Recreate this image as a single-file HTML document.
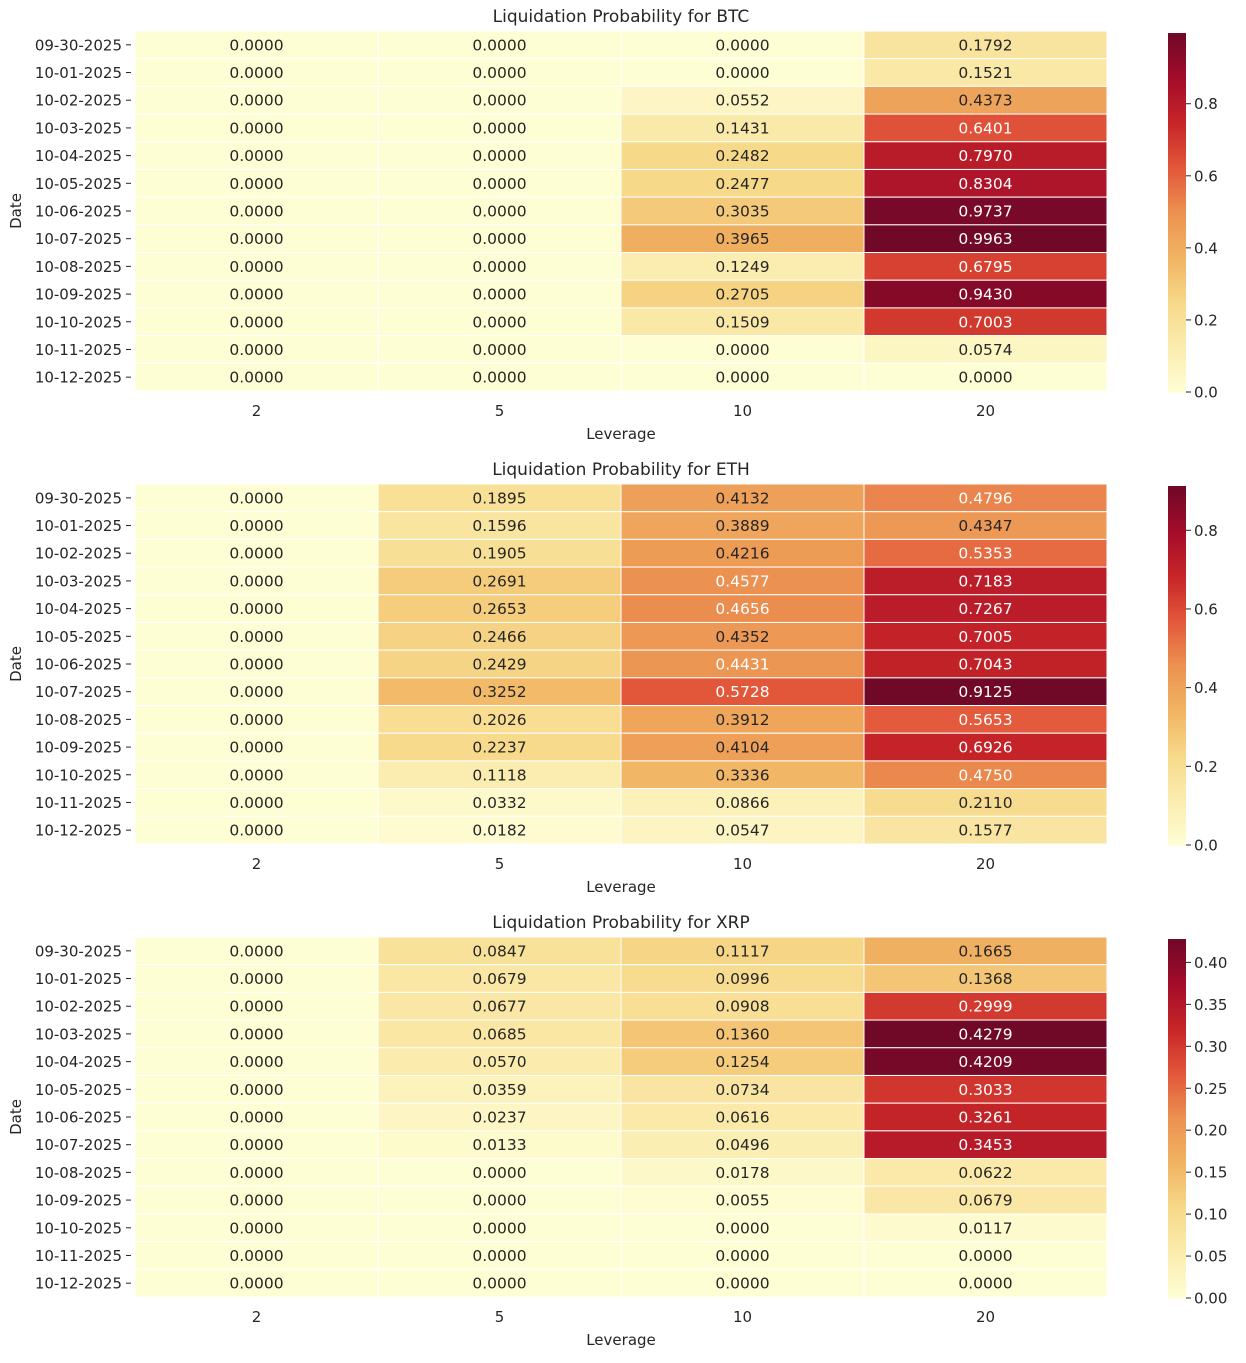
<!DOCTYPE html>
<html><head><meta charset="utf-8"><style>
body{margin:0;background:#fff;}
svg text{font-family:"DejaVu Sans","Liberation Sans",sans-serif;fill:#262626;}
</style></head><body>
<svg id="chart" width="1246" height="1358" xmlns="http://www.w3.org/2000/svg"></svg>
<script>
const dates=["09-30-2025","10-01-2025","10-02-2025","10-03-2025","10-04-2025","10-05-2025","10-06-2025","10-07-2025","10-08-2025","10-09-2025","10-10-2025","10-11-2025","10-12-2025"];
const leverages=["2","5","10","20"];
const assets=["BTC","ETH","XRP"];
const btcValues=[
[0,0,0,0.1792],[0,0,0,0.1521],[0,0,0.0552,0.4373],[0,0,0.1431,0.6401],[0,0,0.2482,0.7970],
[0,0,0.2477,0.8304],[0,0,0.3035,0.9737],[0,0,0.3965,0.9963],[0,0,0.1249,0.6795],[0,0,0.2705,0.9430],
[0,0,0.1509,0.7003],[0,0,0,0.0574],[0,0,0,0]];
const ethValues=[
[0,0.1895,0.4132,0.4796],[0,0.1596,0.3889,0.4347],[0,0.1905,0.4216,0.5353],[0,0.2691,0.4577,0.7183],
[0,0.2653,0.4656,0.7267],[0,0.2466,0.4352,0.7005],[0,0.2429,0.4431,0.7043],[0,0.3252,0.5728,0.9125],
[0,0.2026,0.3912,0.5653],[0,0.2237,0.4104,0.6926],[0,0.1118,0.3336,0.4750],[0,0.0332,0.0866,0.2110],[0,0.0182,0.0547,0.1577]];
const xrpValues=[
[0,0.0847,0.1117,0.1665],[0,0.0679,0.0996,0.1368],[0,0.0677,0.0908,0.2999],[0,0.0685,0.1360,0.4279],
[0,0.0570,0.1254,0.4209],[0,0.0359,0.0734,0.3033],[0,0.0237,0.0616,0.3261],[0,0.0133,0.0496,0.3453],
[0,0,0.0178,0.0622],[0,0,0.0055,0.0679],[0,0,0,0.0117],[0,0,0,0],[0,0,0,0]];
const btcTicks=[0,0.2,0.4,0.6,0.8];
const ethTicks=[0,0.2,0.4,0.6,0.8];
const xrpTicks=[0,0.05,0.10,0.15,0.20,0.25,0.30,0.35,0.40];

const stops=["#ffffcc","#ffeda0","#fed976","#feb24c","#fd8d3c","#fc4e2a","#e31a1c","#bd0026","#800026"].map(h=>[parseInt(h.slice(1,3),16),parseInt(h.slice(3,5),16),parseInt(h.slice(5,7),16)]);
function cmap(t){t=Math.max(0,Math.min(1,t));const p=t*8,i=Math.min(7,Math.floor(p)),f=p-i;
 const c=stops[i].map((c,k)=>c+(stops[i+1][k]-c)*f);
 const L=0.3*c[0]+0.59*c[1]+0.11*c[2];
 return c.map(v=>Math.round(v*0.8+L*0.2));}
function lum(c){const l=c.map(v=>{v/=255;return v<=0.03928?v/12.92:Math.pow((v+0.055)/1.055,2.4)});return 0.2126*l[0]+0.7152*l[1]+0.0722*l[2];}
const NS="http://www.w3.org/2000/svg",svg=document.getElementById("chart");
function el(t,a,p){const e=document.createElementNS(NS,t);for(const k in a)e.setAttribute(k,a[k]);(p||svg).appendChild(e);return e;}
function txt(s,a,p){const e=el("text",a,p);e.textContent=s;return e;}

const panels=[{v:btcValues,ticks:btcTicks,dec:1,top:31},{v:ethValues,ticks:ethTicks,dec:1,top:484},{v:xrpValues,ticks:xrpTicks,dec:2,top:937}];
const X0=135,X1=1107,H=360;
panels.forEach((P,pi)=>{
 const g=el("g",{});
 
 
 const vmax=Math.max(...P.v.flat());
 const cw=(X1-X0)/leverages.length,rh=H/dates.length;
 const xs=c=>X0+c*cw, ys=r=>P.top+r*rh;
 const t=txt("Liquidation Probability for "+assets[pi],{x:(X0+X1)/2,y:P.top-9,"text-anchor":"middle","font-size":"17"},g);
 
 
 P.v.forEach((row,r)=>row.forEach((val,c)=>{
  const col=cmap(val/vmax);
  const rc=el("rect",{x:xs(c),y:ys(r),width:cw,height:rh,fill:`rgb(${col})`,stroke:"#fff","stroke-width":1},g);
  
  
  const lt=txt(val.toFixed(4),{x:xs(c)+cw/2,y:ys(r)+rh/2+5.5,"text-anchor":"middle","font-size":"15.5",style:"fill:"+(lum(col)>0.408?"#262626":"#fff")},g);
  
  
 }));
 dates.forEach((d,r)=>{
  const y=ys(r)+rh/2;
  const l=txt(d,{x:122,y:y+5.5,"text-anchor":"end","font-size":"15"},g);
  
  
  el("line",{x1:126,x2:131,y1:y,y2:y,stroke:"#262626","stroke-width":1},g);
 });
 leverages.forEach((lv,c)=>{
  const x=xs(c)+cw/2;
  el("line",{x1:x,x2:x,y1:P.top+H+1,y2:P.top+H+5},g);
  const l=txt(lv,{x:x,y:P.top+H+25,"text-anchor":"middle","font-size":"15"},g);
  
  
 });
 const xl=txt("Leverage",{x:(X0+X1)/2,y:P.top+H+48,"text-anchor":"middle","font-size":"15"},g);
 
 
 const yl=txt("Date",{x:0,y:0,"text-anchor":"middle","font-size":"15",transform:`translate(21,${P.top+H/2}) rotate(-90)`},g);
 
 
 const cb=el("g",{},g);
 
 
 const cx=1168,cwid=18,ct=P.top+2,ch=H-1,N=120;
 for(let i=0;i<N;i++){const col=cmap((i+0.5)/N);
  el("rect",{x:cx,y:ct+ch-(i+1)*ch/N,width:cwid,height:ch/N+0.6,fill:`rgb(${col})`},cb);}
 P.ticks.forEach(tv=>{
  const y=ct+ch-tv/vmax*ch;
  el("line",{x1:cx+cwid,x2:cx+cwid+5,y1:y,y2:y,stroke:"#262626","stroke-width":1},cb);
  const l=txt(tv.toFixed(P.dec),{x:cx+cwid+8,y:y+5.5,"font-size":"15"},cb);
  
  
 });
});
</script>
</body></html>
